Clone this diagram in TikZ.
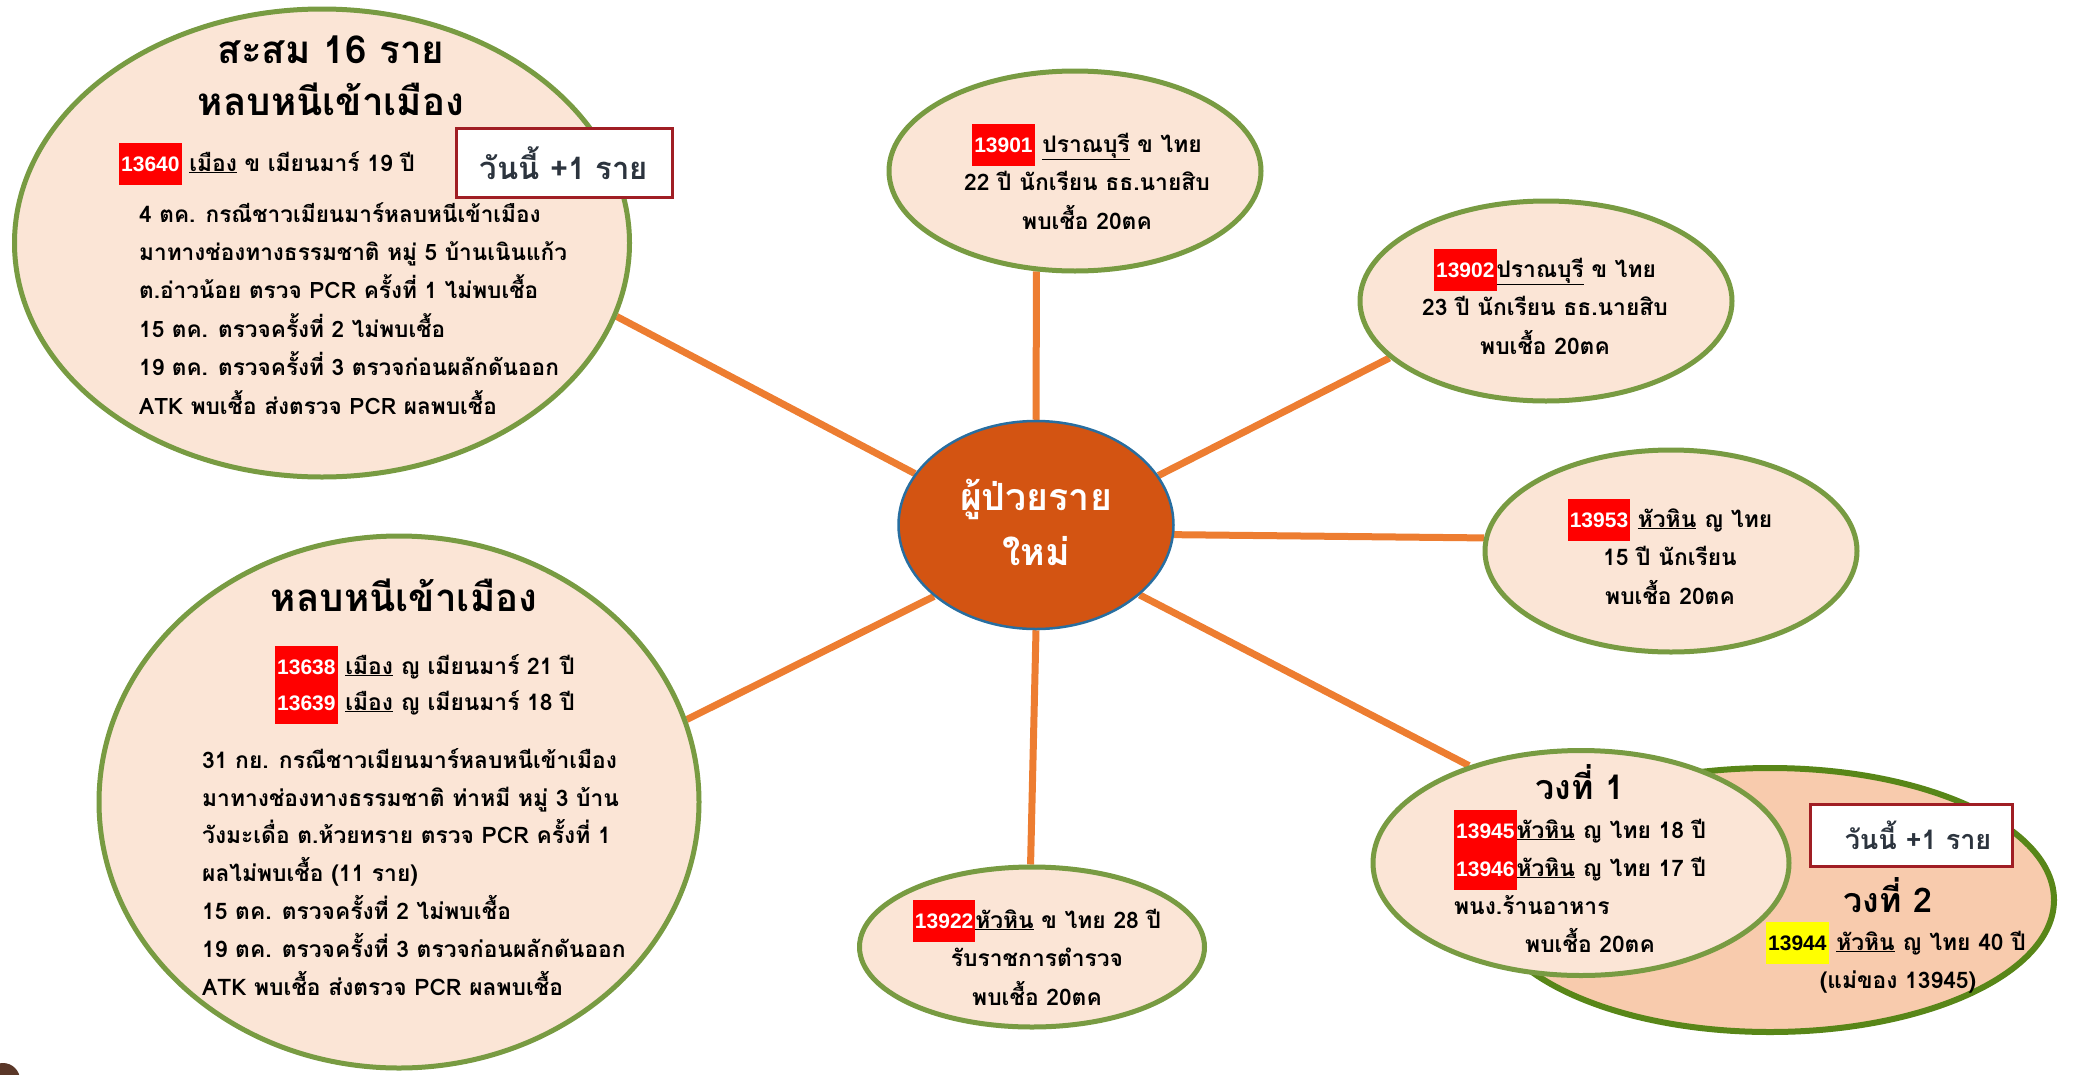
\documentclass[tikz,border=0pt]{standalone}
\usepackage{fontspec}
\setmainfont[Script=Thai]{Loma}
\newfontfamily\numfont{Liberation Sans}
\usetikzlibrary{shapes.geometric,backgrounds}
\setlength{\lineskiplimit}{-100pt}

\definecolor{bubblefill}{RGB}{251,229,214}
\definecolor{bubbleline}{RGB}{120,155,66}
\definecolor{ringfill}{RGB}{248,203,173}
\definecolor{ringline}{RGB}{88,134,24}
\definecolor{hubfill}{RGB}{211,84,18}
\definecolor{hubline}{RGB}{40,110,160}
\definecolor{spokeorange}{RGB}{237,125,49}
\definecolor{idred}{RGB}{255,0,0}
\definecolor{idyellow}{RGB}{255,255,0}
\definecolor{boxline}{RGB}{160,30,36}
\definecolor{boxtext}{RGB}{44,52,62}
\definecolor{cornerbrown}{RGB}{90,55,40}

\newcommand{\redid}[1]{{\setlength{\fboxsep}{2pt}\colorbox{idred}{\rule[-12pt]{0pt}{38pt}\numfont\fontsize{21}{25}\selectfont\color{white}#1}}}
\newcommand{\yellowid}[1]{{\setlength{\fboxsep}{2pt}\colorbox{idyellow}{\rule[-12pt]{0pt}{38pt}\numfont\fontsize{21}{25}\selectfont\color{black}#1}}}

\begin{document}
\begin{tikzpicture}[x=1pt, y=-1pt,
    bubble/.style={ellipse, draw=bubbleline, line width=5pt, fill=bubblefill, inner sep=0pt},
    ring/.style={ellipse, draw=ringline, line width=6pt, fill=ringfill, inner sep=0pt},
    hubshape/.style={ellipse, draw=hubline, line width=2.5pt, fill=hubfill, inner sep=0pt},
    newbox/.style={draw=boxline, line width=3pt, fill=white, inner sep=0pt, text=boxtext, font=\bfseries\fontsize{31}{36}\selectfont},
    body/.style={font=\bfseries\fontsize{22.8}{38}\selectfont, align=left, anchor=base west, inner sep=0pt},
    info/.style={font=\bfseries\fontsize{22.8}{38.5}\selectfont, align=center, anchor=base, inner sep=0pt},
    heading/.style={font=\bfseries\fontsize{38.5}{52}\selectfont, align=center, anchor=base, inner sep=0pt},
    spoke/.style={draw=spokeorange, line width=7pt}
  ]
  \useasboundingbox (0,0) rectangle (2073,1074);

  % bubbles
  \node[bubble, minimum width=615pt, minimum height=468pt] at (322,243) (accum) {};
  \node[bubble, minimum width=600pt, minimum height=532pt] at (399,802) (evade) {};
  \node[bubble, minimum width=372pt, minimum height=200pt] at (1075,171) (c13901) {};
  \node[bubble, minimum width=372pt, minimum height=200pt] at (1546,301) (c13902) {};
  \node[bubble, minimum width=372pt, minimum height=202pt] at (1671,551) (c13953) {};
  \node[bubble, minimum width=345pt, minimum height=160pt] at (1032,947) (c13922) {};
  \node[ring, minimum width=568pt, minimum height=264pt] at (1770,900) (ring2) {};
  \node[bubble, minimum width=416pt, minimum height=225pt] at (1581,863) (ring1) {};
  \node[hubshape, minimum width=275pt, minimum height=208pt] at (1036,525) (hub) {};
  \fill[cornerbrown] (3,1080) circle (17);

  % accumulated
  \node[heading] at (331,115) (accum title) {สะสม 16 ราย\\หลบหนีเข้าเมือง};
  \node[body] at (119,171) (accum case) {\redid{13640} \underline{เมือง} ข เมียนมาร์ 19 ปี};
  \node[body, font=\bfseries\fontsize{22.6}{38.4}\selectfont] at (139,414) (accum note) {4 ตค. กรณีชาวเมียนมาร์หลบหนีเข้าเมือง\\มาทางช่องทางธรรมชาติ หมู่ 5 บ้านเนินแก้ว\\ต.อ่าวน้อย ตรวจ PCR ครั้งที่ 1 ไม่พบเชื้อ\\15 ตค. ตรวจครั้งที่ 2 ไม่พบเชื้อ\\19 ตค. ตรวจครั้งที่ 3 ตรวจก่อนผลักดันออก\\ATK พบเชื้อ ส่งตรวจ PCR ผลพบเชื้อ};
  \node[newbox, minimum width=216pt, minimum height=69pt] at (564,163) (accum today) {วันนี้ +1 ราย};

  % evaded entry
  \node[heading] at (404,611) (evade title) {หลบหนีเข้าเมือง};
  \node[body, font=\bfseries\fontsize{22.8}{36}\selectfont] at (275,710) (evade cases) {\redid{13638} \underline{เมือง} ญ เมียนมาร์ 21 ปี\\\redid{13639} \underline{เมือง} ญ เมียนมาร์ 18 ปี};
  \node[body, font=\bfseries\fontsize{22.8}{37.8}\selectfont] at (202,995) (evade note) {31 กย. กรณีชาวเมียนมาร์หลบหนีเข้าเมือง\\มาทางช่องทางธรรมชาติ ท่าหมี หมู่ 3 บ้าน\\วังมะเดื่อ ต.ห้วยทราย ตรวจ PCR ครั้งที่ 1\\ผลไม่พบเชื้อ (11 ราย)\\15 ตค. ตรวจครั้งที่ 2 ไม่พบเชื้อ\\19 ตค. ตรวจครั้งที่ 3 ตรวจก่อนผลักดันออก\\ATK พบเชื้อ ส่งตรวจ PCR ผลพบเชื้อ};

  % single cases
  \node[info] at (1087,229) (t13901) {\redid{13901} \underline{ปราณบุรี} ข ไทย\\22 ปี นักเรียน ธธ.นายสิบ\\พบเชื้อ 20ตค};
  \node[info] at (1545,354) (t13902) {\redid{13902}\underline{ปราณบุรี} ข ไทย\\23 ปี นักเรียน ธธ.นายสิบ\\พบเชื้อ 20ตค};
  \node[info] at (1670,604) (t13953) {\redid{13953} \underline{หัวหิน} ญ ไทย\\15 ปี นักเรียน\\พบเชื้อ 20ตค};
  \node[info] at (1037,1005) (t13922) {\redid{13922}\underline{หัวหิน} ข ไทย 28 ปี\\รับราชการตำรวจ\\พบเชื้อ 20ตค};

  % clusters
  \node[heading, font=\bfseries\fontsize{34}{40}\selectfont] at (1580,799) (ring1 title) {วงที่ 1};
  \node[body] at (1454,914) (ring1 cases) {\redid{13945}\underline{หัวหิน} ญ ไทย 18 ปี\\\redid{13946}\underline{หัวหิน} ญ ไทย 17 ปี\\พนง.ร้านอาหาร};
  \node[info] at (1590,952) (ring1 found) {พบเชื้อ 20ตค};
  \node[newbox, font=\bfseries\fontsize{27}{32}\selectfont, minimum width=202pt, minimum height=62pt] at (1911,835) (ring2 today) {\hspace{14pt}วันนี้ +1 ราย};
  \node[heading, font=\bfseries\fontsize{34}{40}\selectfont] at (1888,912) (ring2 title) {วงที่ 2};
  \node[body] at (1766,950) (ring2 case) {\yellowid{13944} \underline{หัวหิน} ญ ไทย 40 ปี};
  \node[info] at (1898,988) (ring2 note) {(แม่ของ 13945)};

  % hub
  \node[info, text=white, font=\bfseries\fontsize{37.5}{55}\selectfont] at (1036,565) (hub text) {ผู้ป่วยราย\\ใหม่};

  % links
  \begin{scope}[on background layer]
    \draw[spoke] (hub.157) -- (accum.-14);
    \draw[spoke] (hub.90) -- (c13901.249);
    \draw[spoke] (hub.22) -- (c13902.200);
    \draw[spoke] (hub.-4) -- (c13953.176);
    \draw[spoke] (hub.-34) -- (ring1.139);
    \draw[spoke] (hub.-90) -- (c13922.91);
    \draw[spoke] (hub.215) -- (evade.16);
  \end{scope}
\end{tikzpicture}
\end{document}
